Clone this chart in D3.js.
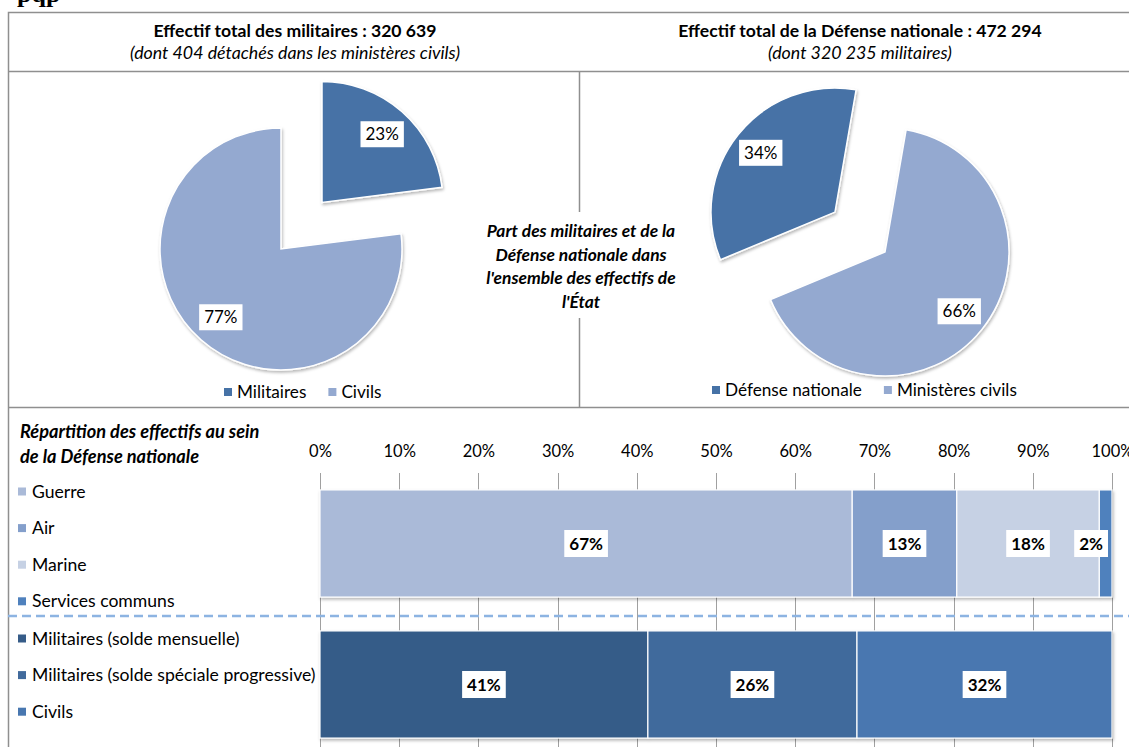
<!DOCTYPE html>
<html><head><meta charset="utf-8">
<script src="https://cdn.jsdelivr.net/npm/d3@7"></script>
<style>
body{margin:0;background:#fff}
svg{display:block}
text{font-family:Lato,"Open Sans",sans-serif;fill:#000}
</style>
</head><body>
<svg id="c" width="1129" height="747"></svg>
<script>
// ---------- DATA ----------
const pie1Title = "Effectif total des militaires : 320 639";
const pie1Subtitle = "(dont 404 détachés dans les ministères civils)";
const pie1Categories = ["Militaires", "Civils"];
const pie1Values = [23, 77];

const pie2Title = "Effectif total de la Défense nationale : 472 294";
const pie2Subtitle = "(dont 320 235 militaires)";
const pie2Categories = ["Défense nationale", "Ministères civils"];
const pie2Values = [34, 66];

const centerText = ["Part des militaires et de la", "Défense nationale dans", "l'ensemble des effectifs de", "l'État"];

const barTitle = ["Répartition des effectifs au sein", "de la Défense nationale"];
const barRows = ["Armées", "Statuts"];
const armeesCategories = ["Guerre", "Air", "Marine", "Services communs"];
const armeesValues = [67.2, 13.2, 18.0, 1.6];
const statutCategories = ["Militaires (solde mensuelle)", "Militaires (solde spéciale progressive)", "Civils"];
const statutValues = [41.4, 26.4, 32.2];
const xTicks = [0, 10, 20, 30, 40, 50, 60, 70, 80, 90, 100];

// ---------- STYLE ----------
const pieColors = ["#4672A6", "#94A9D0"];
const armeesColors = ["#AABAD8", "#849FCB", "#C6D1E4", "#4F81BD"];
const statutColors = ["#365C88", "#416A9C", "#4877B0"];
const lineColor = "#8F8F8F";

const svg = d3.select("#c");
const defs = svg.append("defs");
const f = defs.append("filter").attr("id", "sh").attr("x", "-10%").attr("y", "-10%").attr("width", "130%").attr("height", "130%");
f.append("feDropShadow").attr("dx", 1).attr("dy", 2).attr("stdDeviation", 1.5).attr("flood-color", "#000").attr("flood-opacity", 0.28);

// clipped fragment of the page heading above the frame
svg.append("text").attr("x", 17).attr("y", 2)
  .style("font-family", "'Liberation Serif', serif").attr("font-weight", "bold").attr("font-size", 26).text("pqp");

// ---------- FRAME ----------
const frame = svg.append("g").attr("fill", "none").attr("stroke", lineColor).attr("stroke-width", 1.5);
frame.append("rect").attr("x", 8.5).attr("y", 12.5).attr("width", 1140).attr("height", 760);
frame.append("line").attr("x1", 8).attr("x2", 1129).attr("y1", 71.5).attr("y2", 71.5);
frame.append("line").attr("x1", 8).attr("x2", 1129).attr("y1", 407.5).attr("y2", 407.5);
frame.append("line").attr("x1", 579.5).attr("x2", 579.5).attr("y1", 72).attr("y2", 407);

// ---------- HEADERS ----------
function header(cx, title, sub) {
  svg.append("text").attr("x", cx).attr("y", 37).attr("text-anchor", "middle")
    .attr("font-weight", "bold").attr("font-size", 17.6).text(title);
  svg.append("text").attr("x", cx).attr("y", 59).attr("text-anchor", "middle")
    .attr("font-style", "italic").attr("font-size", 17.8).text(sub);
}
header(295, pie1Title, pie1Subtitle);
header(860, pie2Title, pie2Subtitle);

// ---------- PIES ----------
function drawPie(cfg) {
  const g = svg.append("g");
  const pie = d3.pie().sort(null).startAngle(cfg.start).endAngle(cfg.start + 2 * Math.PI);
  const arcs = pie(cfg.values);
  const arc = d3.arc().innerRadius(0).outerRadius(cfg.r);
  arcs.forEach((a, i) => {
    const mid = (a.startAngle + a.endAngle) / 2;
    const off = i === cfg.explodeIndex ? cfg.explode : 0;
    const ox = cfg.cx + Math.sin(mid) * off, oy = cfg.cy - Math.cos(mid) * off;
    g.append("path").attr("d", arc(a)).attr("transform", `translate(${ox},${oy})`)
      .attr("fill", pieColors[i]).attr("stroke", "#fff").attr("stroke-width", 1.5).attr("filter", "url(#sh)");
    const lx = ox + Math.sin(mid) * cfg.labelR, ly = oy - Math.cos(mid) * cfg.labelR;
    const lg = g.append("g");
    const t = lg.append("text").attr("x", lx).attr("y", ly + 6).attr("text-anchor", "middle")
      .attr("font-size", 17).text(Math.round(a.data) + "%");
    const w = t.node().getComputedTextLength() + 10;
    lg.insert("rect", "text").attr("x", lx - w / 2).attr("y", ly - 13).attr("width", w).attr("height", 26).attr("fill", "#fff");
  });
  // legend
  const lgd = svg.append("g");
  let x = cfg.legendX;
  cfg.categories.forEach((c, i) => {
    lgd.append("rect").attr("x", x).attr("y", cfg.legendY - 4).attr("width", 8).attr("height", 8).attr("fill", pieColors[i]);
    const t = lgd.append("text").attr("x", x + 13).attr("y", cfg.legendY + 6).attr("font-size", 17.2).text(c);
    x += 13 + t.node().getComputedTextLength() + 22;
  });
}
drawPie({cx: 281, cy: 249, r: 121, values: pie1Values, categories: pie1Categories, start: 0,
  explodeIndex: 0, explode: 62, labelR: 91, legendX: 224, legendY: 392});
drawPie({cx: 885, cy: 252, r: 124, values: pie2Values, categories: pie2Categories, start: 247.4 * Math.PI / 180,
  explodeIndex: 0, explode: 64, labelR: 95, legendX: 712, legendY: 390});

// ---------- CENTER TEXT ----------
const ct = svg.append("g");
const ctBg = ct.append("rect").attr("fill", "#fff");
centerText.forEach((l, i) => {
  ct.append("text").attr("x", 581).attr("y", 237 + i * 23.5).attr("text-anchor", "middle")
    .attr("font-weight", "bold").attr("font-style", "italic").attr("font-size", 17.4).text(l);
});
const bb = ct.node().getBBox();
ctBg.attr("x", bb.x - 4).attr("y", 212).attr("width", bb.width + 8).attr("height", 106);

// ---------- BAR SECTION ----------
barTitle.forEach((l, i) => {
  svg.append("text").attr("x", 20).attr("y", 438 + i * 25).attr("font-weight", "bold").attr("font-style", "italic")
    .attr("font-size", 18.2).text(l);
});

const x = d3.scaleLinear().domain([0, 100]).range([320, 1112]);
const y = d3.scaleBand().domain(barRows).range([473, 755]).paddingInner(0.24).paddingOuter(0.12);

// gridlines
svg.append("g").selectAll("line").data(xTicks).join("line")
  .attr("x1", d => Math.round(x(d)) + 0.5).attr("x2", d => Math.round(x(d)) + 0.5)
  .attr("y1", 473).attr("y2", 755).attr("stroke", "#A0A0A0").attr("stroke-width", 1);

// top axis labels
const ax = svg.append("g").attr("transform", "translate(0,457)")
  .call(d3.axisTop(x).tickValues(xTicks).tickFormat(d => d + "%").tickSize(0).tickPadding(0));
ax.select(".domain").remove();
ax.selectAll("text").attr("font-size", 16.5).style("font-family", "Lato, sans-serif").attr("fill", "#000");

// dashed separator
svg.append("line").attr("x1", 8).attr("x2", 1129).attr("y1", 616).attr("y2", 616)
  .attr("stroke", "#8DB4E2").attr("stroke-width", 2.5).attr("stroke-dasharray", "9,5");

function stackRow(row, values, colors) {
  const g = svg.append("g");
  let cum = 0;
  const segs = values.map((v, i) => { const s = {i, v, x0: cum, x1: cum + v}; cum += v; return s; });
  const bars = g.append("g").attr("filter", "url(#sh)");
  segs.forEach(s => {
    bars.append("rect").attr("x", x(s.x0)).attr("width", x(s.x1) - x(s.x0))
      .attr("y", y(row)).attr("height", y.bandwidth()).attr("fill", colors[s.i])
      .attr("stroke", "#fff").attr("stroke-width", 1.2);
  });
  segs.forEach(s => {
    const lg = g.append("g");
    const t = lg.append("text").attr("text-anchor", "middle").attr("font-weight", "bold").attr("font-size", 17)
      .text(Math.round(s.v) + "%");
    const w = t.node().getComputedTextLength() + 10;
    let cx = (x(s.x0) + x(s.x1)) / 2;
    cx = Math.min(cx, x(100) - 4 - w / 2);
    const cy = y(row) + y.bandwidth() / 2;
    t.attr("x", cx).attr("y", cy + 6);
    lg.insert("rect", "text").attr("x", cx - w / 2).attr("y", cy - 13.5).attr("width", w).attr("height", 27).attr("fill", "#fff");
  });
}
stackRow("Armées", armeesValues, armeesColors);
stackRow("Statuts", statutValues, statutColors);

// legends
function rowLegend(cats, colors, y0) {
  cats.forEach((c, i) => {
    const yy = y0 + i * 36.6;
    svg.append("rect").attr("x", 18).attr("y", yy - 4).attr("width", 8).attr("height", 8).attr("fill", colors[i]);
    svg.append("text").attr("x", 32).attr("y", yy + 6).attr("font-size", 17.6).text(c);
  });
}
rowLegend(armeesCategories, armeesColors, 491.5);
rowLegend(statutCategories, statutColors, 638.5);
</script>
</body></html>
